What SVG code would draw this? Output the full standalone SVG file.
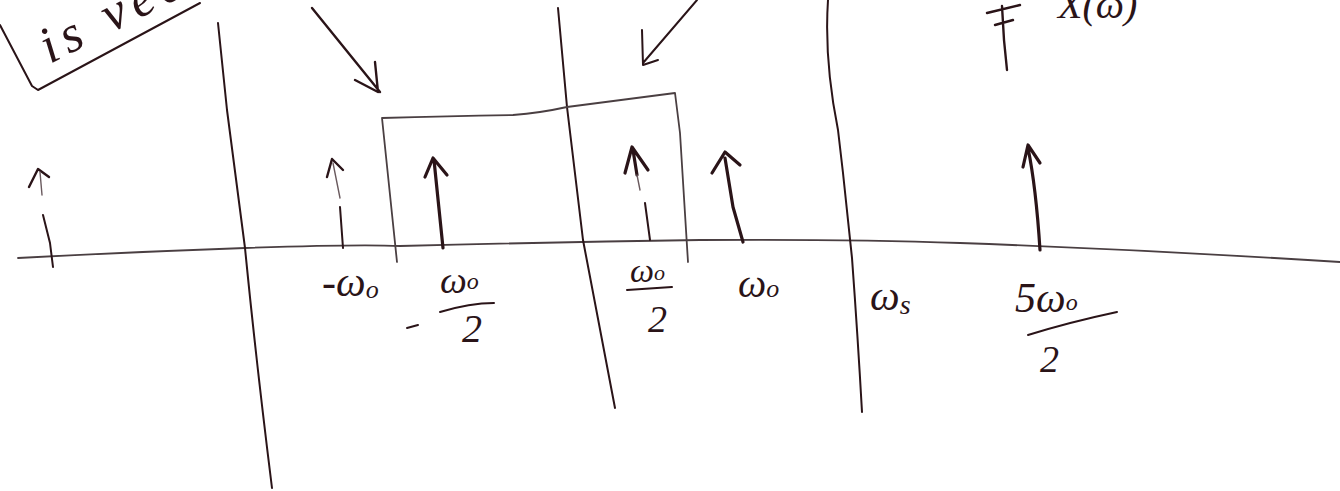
<svg xmlns="http://www.w3.org/2000/svg" width="1340" height="491" viewBox="0 0 1340 491">
<style>
.ink{fill:none;stroke:#2a1418;stroke-linecap:round;stroke-linejoin:round}
.thin{stroke-width:2}
.mid{stroke-width:2.4}
.bold{stroke-width:3.2}
.grey{fill:none;stroke:#4a3f42;stroke-width:1.8;stroke-linecap:round;stroke-linejoin:round}
.faint{fill:none;stroke:#6a5a5e;stroke-width:1.4;stroke-linecap:round}
.hw{font-family:"Liberation Serif",serif;font-style:italic;fill:#2a1418}
</style>
<rect width="1340" height="491" fill="#ffffff"/>

<g id="note-top-left">
<path class="ink thin" d="M0,25 L32,86 L38,90 L200,3"/>
<text class="hw" font-size="52" letter-spacing="7" transform="translate(50,64) rotate(-27)">is vec</text>
</g>

<g id="note-top-right">
<path class="ink mid" d="M987,13 L1020,5 M995,25 L1013,20 M1002,6 L1004,40 L1007,70"/>
<text class="hw" font-size="40" x="1058" y="18">X(ω)</text>
</g>

<g id="pointer-arrows">
<path class="ink mid" d="M312,8 L380,92 M375,62 L378,92 L355,80"/>
<path class="ink thin" d="M697,0 L643,63 M642,30 L643,65 L658,60"/>
</g>

<g id="axis">
<path class="grey" d="M18,258 Q130,252 245,248 T400,246 Q560,242 700,240 Q850,239 960,243 Q1150,250 1340,262"/>
</g>

<g id="dividers">
<path class="ink thin" d="M218,23 L227,110 Q236,180 245,248 Q256,360 272,488"/>
<path class="ink thin" d="M558,8 L567,107 L583,240 Q598,320 615,408"/>
<path class="ink thin" d="M828,0 Q824,60 838,130 L843,173 L852,258 Q858,340 862,412"/>
</g>

<g id="filter-box">
<path class="grey" d="M397,262 L382,118 Q450,116 513,115 Q540,113 567,107 L675,93 L680,133 L688,262"/>
</g>

<g id="impulses">
<path class="ink mid" d="M29,187 L38,169 L49,177"/>
<path class="faint" d="M40,172 L42,195"/>
<path class="ink thin" d="M43,215 L50,243 L53,267"/>

<path class="ink mid" d="M327,177 L332,159 L343,170"/>
<path class="faint" d="M333,163 L340,198"/>
<path class="ink thin" d="M340,207 L343,248"/>

<path class="ink bold" d="M425,177 L433,158 L447,175 M434,160 L443,248"/>

<path class="ink bold" d="M625,173 L632,147 L648,170 M633,150 L637,175"/>
<path class="faint" d="M637,175 L640,190"/>
<path class="ink thin" d="M645,203 L650,240"/>

<path class="ink bold" d="M712,173 L725,152 L740,165 M725,158 L733,207 L743,242"/>

<path class="ink bold" d="M1023,167 L1028,145 L1040,163 M1028,148 Q1036,187 1040,250"/>
</g>

<g id="labels">
<text class="hw" font-size="42" x="322" y="296">-ω<tspan font-size="26" dy="2">o</tspan></text>

<text class="hw" font-size="38" x="440" y="293">ω<tspan font-size="24" dy="-4">o</tspan></text>
<path class="ink thin" d="M440,312 Q470,303 494,303"/>
<path class="ink thin" d="M407,328 L418,325"/>
<text class="hw" font-size="40" x="462" y="342">2</text>

<text class="hw" font-size="34" x="630" y="282">ω<tspan font-size="22" dy="-2">o</tspan></text>
<path class="ink thin" d="M627,290 L672,287"/>
<text class="hw" font-size="38" x="648" y="332">2</text>

<text class="hw" font-size="40" x="738" y="297">ω<tspan font-size="26" dy="0">o</tspan></text>

<text class="hw" font-size="42" x="870" y="310">ω<tspan font-size="28" dy="4">s</tspan></text>

<text class="hw" font-size="42" x="1015" y="312">5ω<tspan font-size="24" dy="-2">o</tspan></text>
<path class="ink thin" d="M1028,335 Q1070,322 1117,312"/>
<text class="hw" font-size="38" x="1040" y="372">2</text>
</g>
</svg>
